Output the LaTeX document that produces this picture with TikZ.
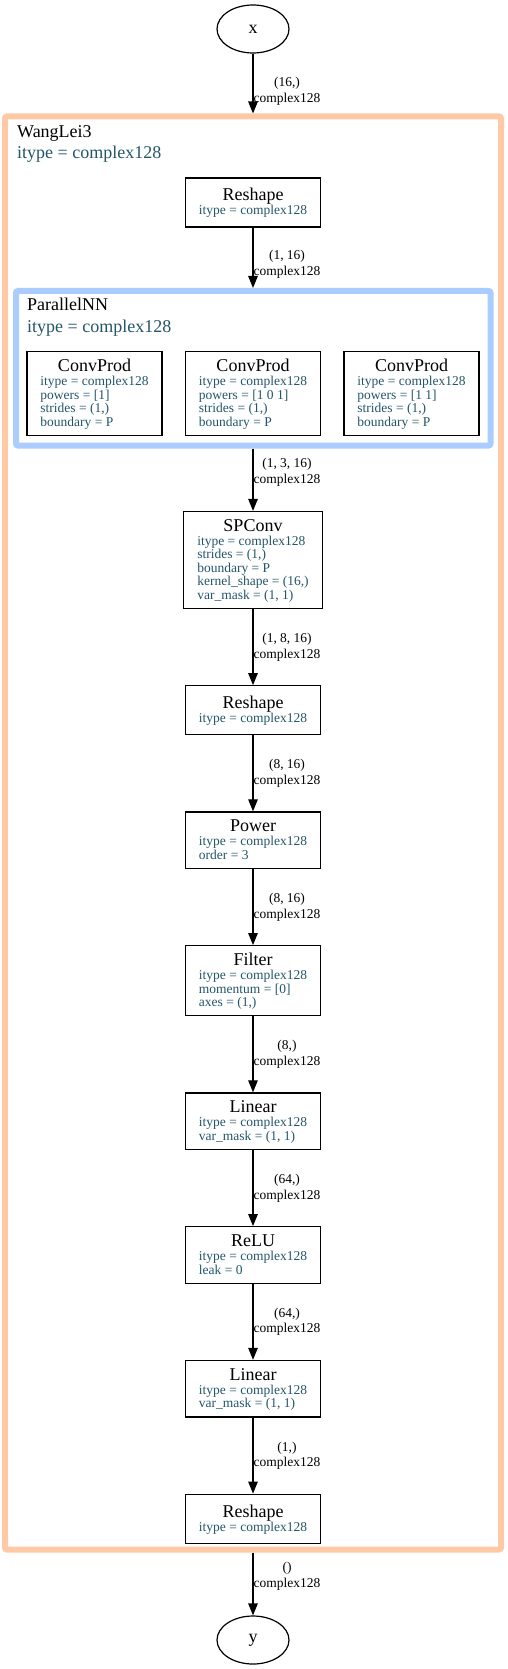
\documentclass[tikz,border=0pt]{standalone}
\usepackage{fontspec}
\setmainfont{Liberation Serif}
\usepackage{array}
\usetikzlibrary{positioning,shapes.geometric,arrows.meta}

\definecolor{attrcol}{RGB}{35,85,105}
\definecolor{outercol}{RGB}{255,201,166}
\definecolor{innercol}{RGB}{170,204,255}

\newcommand{\layertext}[2]{%
  \fontsize{13.5}{13.5}\selectfont
  \begin{tabular}{@{}>{\color{attrcol}}l@{}}
    \multicolumn{1}{@{}c@{}}{\rule{0pt}{15pt}\fontsize{18}{18}\selectfont #1}\\[0.5pt]
    #2
  \end{tabular}}

\tikzset{
  layer/.style={draw, rectangle, line width=1.2pt, minimum width=135pt, minimum height=49pt,
    inner xsep=13.5pt, inner ysep=5pt},
  io/.style={draw, ellipse, line width=1.2pt, minimum width=72pt, minimum height=48pt,
    inner sep=0pt, font=\fontsize{18}{18}\selectfont},
  cluster/.style={draw, rectangle, line width=6pt, rounded corners=2pt, inner sep=0pt},
  edge/.style={-{Triangle[length=12pt,width=9.5pt]}, line width=1.2pt},
  shapelbl/.style={font=\fontsize{13.5}{15.5}\selectfont, align=center, inner sep=0pt, xshift=34pt},
  clustername/.style={font=\fontsize{18}{18}\selectfont, anchor=base west, inner sep=0pt},
  clusterattr/.style={clustername, text=attrcol}
}

\begin{document}
\begin{tikzpicture}[x=1pt,y=-1pt,node distance=76pt]
  \useasboundingbox (0,0) rectangle (507,1669);

  \node[cluster, draw=outercol, minimum width=496pt, minimum height=1433pt] (wanglei) at (253,833) {};
  \node[clustername] (wangleiname) at (17,138) {WangLei3};
  \node[clusterattr] (wangleiattr) at (17,159) {itype = complex128};

  \node[cluster, draw=innercol, minimum width=474.5pt, minimum height=154.5pt] (parallel) at (253.25,368.25) {};
  \node[clustername] (parallelname) at (27,311) {ParallelNN};
  \node[clusterattr] (parallelattr) at (27,332) {itype = complex128};

  \node[io] (x) at (253,29) {x};
  \node[layer] (reshapeA) at (253,202.5) {\layertext{Reshape}{itype = complex128}};

  \node[layer] (convA) at (94.5,393.5) {\layertext{ConvProd}{itype = complex128\\ powers = [1]\\ strides = (1,)\\ boundary = P}};
  \node[layer] (convB) at (253,393.5) {\layertext{ConvProd}{itype = complex128\\ powers = [1 0 1]\\ strides = (1,)\\ boundary = P}};
  \node[layer] (convC) at (411.5,393.5) {\layertext{ConvProd}{itype = complex128\\ powers = [1 1]\\ strides = (1,)\\ boundary = P}};

  \node[layer] (spconv) at (253,560) {\layertext{SPConv}{itype = complex128\\ strides = (1,)\\ boundary = P\\ kernel\_shape = (16,)\\ var\_mask = (1, 1)}};
  \node[layer, below=of spconv] (reshapeB) {\layertext{Reshape}{itype = complex128}};
  \node[layer, below=of reshapeB] (power) {\layertext{Power}{itype = complex128\\ order = 3}};
  \node[layer, below=of power] (filter) {\layertext{Filter}{itype = complex128\\ momentum = [0]\\ axes = (1,)}};
  \node[layer, below=of filter] (linearA) {\layertext{Linear}{itype = complex128\\ var\_mask = (1, 1)}};
  \node[layer, below=of linearA] (relu) {\layertext{ReLU}{itype = complex128\\ leak = 0}};
  \node[layer, below=of relu] (linearB) {\layertext{Linear}{itype = complex128\\ var\_mask = (1, 1)}};
  \node[layer, below=of linearB] (reshapeC) {\layertext{Reshape}{itype = complex128}};
  \node[io] (y) at (253,1640) {y};

  \draw[edge] (x) -- node[shapelbl, pos=.63] {(16,)\\complex128} (wanglei.north);
  \draw[edge] (reshapeA) -- node[shapelbl, pos=.61] {(1, 16)\\complex128} (reshapeA |- parallel.north);
  \draw[edge] (spconv |- parallel.south) -- node[shapelbl, pos=.38] {(1, 3, 16)\\complex128} (spconv);
  \draw[edge] (spconv) -- node[shapelbl] {(1, 8, 16)\\complex128} (reshapeB);
  \draw[edge] (reshapeB) -- node[shapelbl] {(8, 16)\\complex128} (power);
  \draw[edge] (power) -- node[shapelbl] {(8, 16)\\complex128} (filter);
  \draw[edge] (filter) -- node[shapelbl] {(8,)\\complex128} (linearA);
  \draw[edge] (linearA) -- node[shapelbl] {(64,)\\complex128} (relu);
  \draw[edge] (relu) -- node[shapelbl] {(64,)\\complex128} (linearB);
  \draw[edge] (linearB) -- node[shapelbl] {(1,)\\complex128} (reshapeC);
  \draw[edge] (wanglei.south) -- node[shapelbl, pos=.38] {()\\complex128} (y);
\end{tikzpicture}
\end{document}
